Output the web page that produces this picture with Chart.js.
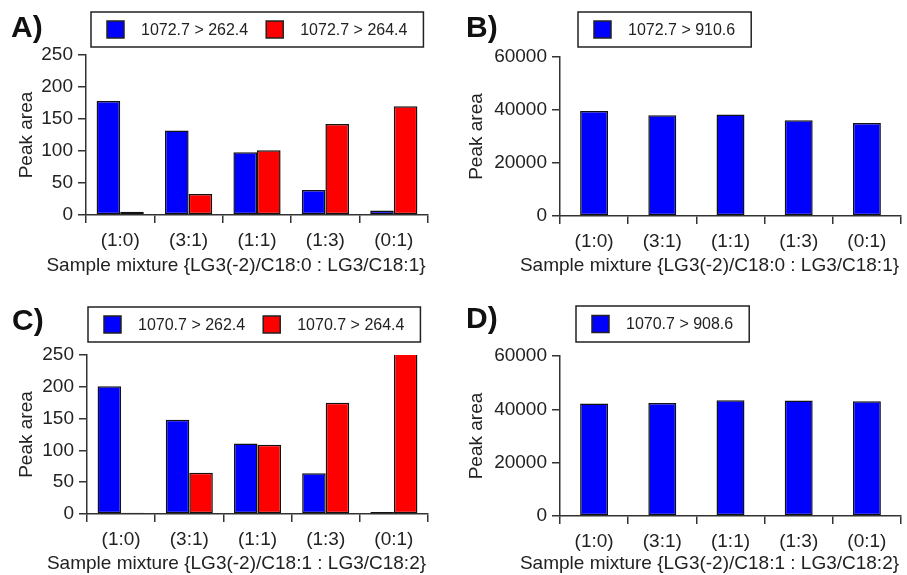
<!DOCTYPE html>
<html>
<head>
<meta charset="utf-8">
<script src="https://cdn.jsdelivr.net/npm/chart.js@4.4.1/dist/chart.umd.min.js"></script>
<style>
  body { margin: 0; background: #fff; }
  #wrap { position: relative; width: 907px; height: 575px; }
  .panel { position: absolute; }
</style>
</head>
<body>
<div id="wrap">
  <canvas class="panel" id="chartA" width="450" height="290" style="left:0;top:0"></canvas>
  <canvas class="panel" id="chartB" width="457" height="290" style="left:450px;top:0"></canvas>
  <canvas class="panel" id="chartC" width="450" height="285" style="left:0;top:290px"></canvas>
  <canvas class="panel" id="chartD" width="457" height="285" style="left:450px;top:290px"></canvas>
</div>
<script>
// categories
const mixtures = ["(1:0)", "(3:1)", "(1:1)", "(1:3)", "(0:1)"];

// panel A  (1072.7 transitions)
const a262 = [178, 132, 98, 39, 7];
const a264 = [5, 33, 101, 142, 170];
// panel B
const b910 = [39600, 38000, 38300, 36100, 35100];
// panel C  (1070.7 transitions)
const c262 = [201, 148, 111, 64, 3];
const c264 = [2, 65, 109, 175, 254];
// panel D
const d908 = [42200, 42400, 43400, 43300, 43000];

const titleAB = "Sample mixture {LG3(-2)/C18:0 : LG3/C18:1}";
const titleCD = "Sample mixture {LG3(-2)/C18:1 : LG3/C18:2}";

const FONT = "'Liberation Sans', Arial, sans-serif";
const BLUE = "#0000ff";
const RED = "#ff0000";
const INK = "#222";

// draws panel letter, boxed legend and the x title
const panelDeco = {
  id: "panelDeco",
  afterDraw(chart, args, o) {
    const ctx = chart.ctx, ca = chart.chartArea;
    ctx.save();
    ctx.fillStyle = "#111";
    ctx.font = "bold 30px " + FONT;
    ctx.textAlign = "left";
    ctx.textBaseline = "alphabetic";
    ctx.fillText(o.letter, o.letterX, o.letterY);

    // legend
    ctx.font = "16px " + FONT;
    const sw = 17, pad = 16, gap = 17, sep = 18;
    let w = pad * 2;
    chart.data.datasets.forEach(function(ds, i) {
      w += sw + gap + ctx.measureText(ds.label).width + (i ? sep : 0);
    });
    const lx = ca.left + o.legendDx, ly = o.legendY, lh = o.legendH;
    ctx.fillStyle = "#fff";
    ctx.fillRect(lx, ly, w, lh);
    ctx.lineWidth = 1.5;
    ctx.strokeStyle = INK;
    ctx.strokeRect(lx, ly, w, lh);
    let x = lx + pad;
    ctx.textBaseline = "middle";
    chart.data.datasets.forEach(function(ds) {
      const sy = ly + (lh - sw) / 2;
      ctx.fillStyle = ds.backgroundColor;
      ctx.fillRect(x, sy, sw, sw);
      ctx.strokeStyle = INK;
      ctx.lineWidth = 1.5;
      ctx.strokeRect(x, sy, sw, sw);
      x += sw + gap;
      ctx.fillStyle = INK;
      ctx.fillText(ds.label, x, ly + lh / 2 + 1);
      x += ctx.measureText(ds.label).width + sep;
    });

    // x title
    ctx.font = "19px " + FONT;
    ctx.textAlign = "center";
    ctx.fillStyle = INK;
    ctx.fillText(o.xTitle, (ca.left + ca.right) / 2 + o.xTitleDx, o.xTitleY);
    ctx.restore();
  }
};

function makeChart(id, datasets, yMax, yStep, area, deco, catPct) {
  const W = document.getElementById(id).width;
  const H = document.getElementById(id).height;
  return new Chart(document.getElementById(id), {
    type: "bar",
    data: { labels: mixtures, datasets: datasets },
    options: {
      responsive: false,
      animation: false,
      devicePixelRatio: 1,
      layout: { padding: { left: 0, right: W - area.right, top: area.top, bottom: 0 } },
      datasets: { bar: { categoryPercentage: catPct, barPercentage: 1, borderWidth: 1.5, borderColor: "#111", borderSkipped: false } },
      plugins: { legend: { display: false }, tooltip: { enabled: false }, panelDeco: deco },
      scales: {
        x: {
          grid: { drawOnChartArea: false, tickLength: 8, color: "#333", lineWidth: 1.5 },
          border: { color: "#333", width: 1.5 },
          ticks: { color: INK, font: { family: FONT, size: 19 }, padding: 6, maxRotation: 0 },
          afterFit: function(s) { s.height = H - area.bottom; }
        },
        y: {
          min: 0, max: yMax,
          grid: { drawOnChartArea: false, tickLength: 8, color: "#333", lineWidth: 1.5 },
          border: { color: "#333", width: 1.5 },
          ticks: { stepSize: yStep, color: INK, font: { family: FONT, size: 19 }, padding: 5,
                   callback: function(v) { return String(v); } },
          title: { display: true, text: "Peak area", color: INK, font: { family: FONT, size: 19 }, padding: { top: 15, bottom: 0 } },
          afterFit: function(s) { s.width = area.left; }
        }
      }
    },
    plugins: [panelDeco]
  });
}

makeChart("chartA", [
  { label: "1072.7 > 262.4", data: a262, backgroundColor: BLUE },
  { label: "1072.7 > 264.4", data: a264, backgroundColor: RED }
], 250, 50, { left: 86, right: 428, top: 55, bottom: 215 },
  { letter: "A)", letterX: 11, letterY: 37, legendDx: 5, legendY: 12, legendH: 35, xTitle: titleAB, xTitleDx: -21, xTitleY: 266 }, 0.69);

makeChart("chartB", [
  { label: "1072.7 > 910.6", data: b910, backgroundColor: BLUE }
], 60000, 20000, { left: 110, right: 451, top: 57, bottom: 216 },
  { letter: "B)", letterX: 16, letterY: 37, legendDx: 18, legendY: 12, legendH: 35, xTitle: titleAB, xTitleDx: -21, xTitleY: 266 }, 0.41);

makeChart("chartC", [
  { label: "1070.7 > 262.4", data: c262, backgroundColor: BLUE },
  { label: "1070.7 > 264.4", data: c264, backgroundColor: RED }
], 250, 50, { left: 87, right: 428, top: 65, bottom: 224 },
  { letter: "C)", letterX: 12, letterY: 40, legendDx: 1, legendY: 17, legendH: 35, xTitle: titleCD, xTitleDx: -21, xTitleY: 274 }, 0.69);

makeChart("chartD", [
  { label: "1070.7 > 908.6", data: d908, backgroundColor: BLUE }
], 60000, 20000, { left: 110, right: 451, top: 66, bottom: 226 },
  { letter: "D)", letterX: 16, letterY: 38, legendDx: 16, legendY: 16, legendH: 36, xTitle: titleCD, xTitleDx: -21, xTitleY: 274 }, 0.41);
</script>
</body>
</html>
